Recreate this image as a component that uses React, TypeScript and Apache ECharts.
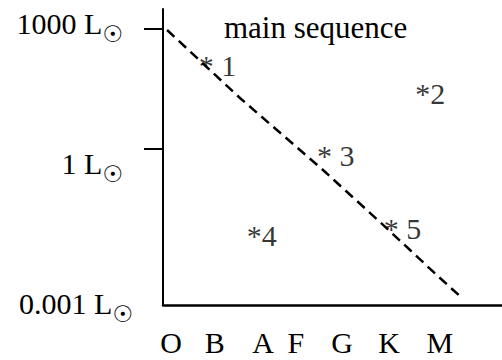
import React, { useEffect, useRef } from "react";
import * as echarts from "echarts";

// Spectral classes along the x axis (position = axis units)
const spectralClasses = ["O", "B", "A", "F", "G", "K", "M"];
const spectralLabelPos = [2.4, 15.3, 29.5, 39.2, 52.8, 66.7, 81.7];

// Luminosity axis in log10(L / Lsun)
const lumTickValues = [3, 0];
const lumLabels = ["1000 L", "1 L", "0.001 L"];
const lumLabelPos = [3.15, -0.35, -3.85];

// Main sequence (dashed line)
const mainSeqX = [1.2, 22.7, 33.6, 47.2, 64.0, 81.7, 88.2];
const mainSeqY = [2.975, 1.275, 0.475, -0.525, -1.825, -3.225, -3.725];

// Numbered stars
const starLabels = ["* 1", "*2", "* 3", "*4", "* 5"];
const starX = [12.9, 76.8, 47.8, 27.1, 67.5];
const starY = [2.18, 1.475, -0.07, -2.07, -1.9];

const FONT = "Liberation Serif";

function nearestIndex(arr: number[], v: number) {
  let best = 0;
  for (let i = 1; i < arr.length; i++) {
    if (Math.abs(arr[i] - v) < Math.abs(arr[best] - v)) best = i;
  }
  return best;
}

export default function App() {
  const ref = useRef<HTMLDivElement>(null);
  useEffect(() => {
    if (!ref.current) return;
    const chart = echarts.init(ref.current, undefined, { renderer: "svg" });
    chart.setOption({
      animation: false,
      backgroundColor: "#fff",
      title: {
        text: "main sequence",
        left: 224,
        top: 12,
        padding: 0,
        textStyle: { fontFamily: FONT, fontSize: 31, fontWeight: "normal", color: "#000", lineHeight: 30 },
      },
      grid: { left: 163, top: 9, right: 0, bottom: 55 },
      xAxis: {
        type: "value",
        min: 0,
        max: 100,
        splitLine: { show: false },
        axisLine: { show: true, onZero: false, lineStyle: { color: "#000", width: 2.5 } },
        axisTick: { show: false },
        axisLabel: {
          customValues: spectralLabelPos,
          margin: 22,
          color: "#000",
          fontFamily: FONT,
          fontSize: 30,
          lineHeight: 30,
          formatter: (v: number) => spectralClasses[nearestIndex(spectralLabelPos, v)],
        },
      },
      yAxis: {
        type: "value",
        min: -3.9,
        max: 3.5,
        splitLine: { show: false },
        axisLine: { show: true, onZero: false, lineStyle: { color: "#000", width: 2 } },
        axisTick: {
          show: true,
          customValues: lumTickValues,
          length: 19,
          inside: false,
          lineStyle: { color: "#000", width: 2 },
        },
        axisLabel: {
          customValues: lumLabelPos,
          margin: 30,
          formatter: (v: number) => {
            const i = nearestIndex(lumLabelPos, v);
            return `{t|${lumLabels[i]}}{${i < 2 ? "s2" : "s"}|☉}`;
          },
          rich: {
            t: { fontFamily: FONT, fontSize: 30, lineHeight: 30, color: "#000" },
            s: { fontFamily: "DejaVu Sans", fontSize: 23, lineHeight: 6, color: "#000", padding: [22, 0, 0, 0] },
            s2: { fontFamily: "DejaVu Sans", fontSize: 23, lineHeight: 6, color: "#000", padding: [22, 10, 0, 0] },
          },
        },
      },
      series: [
        {
          name: "main sequence",
          type: "line",
          data: mainSeqX.map((x, i) => [x, mainSeqY[i]]),
          symbol: "none",
          lineStyle: { color: "#000", width: 2.5, type: [10, 6] },
          silent: true,
        },
        {
          name: "stars",
          type: "scatter",
          data: starX.map((x, i) => ({ value: [x, starY[i]], name: starLabels[i] })),
          symbolSize: 1,
          itemStyle: { color: "transparent" },
          label: {
            show: true,
            position: [0, 0],
            align: "left",
            verticalAlign: "middle",
            offset: [-7.5, 4],
            formatter: (p: any) => p.name,
            fontFamily: FONT,
            fontSize: 30,
            lineHeight: 30,
            color: "#000",
          },
          silent: true,
        },
      ],
    });
    return () => chart.dispose();
  }, []);
  return (
    <div
      ref={ref}
      style={{ position: "fixed", left: 0, top: 0, width: 502, height: 360, background: "#fff" }}
    />
  );
}
